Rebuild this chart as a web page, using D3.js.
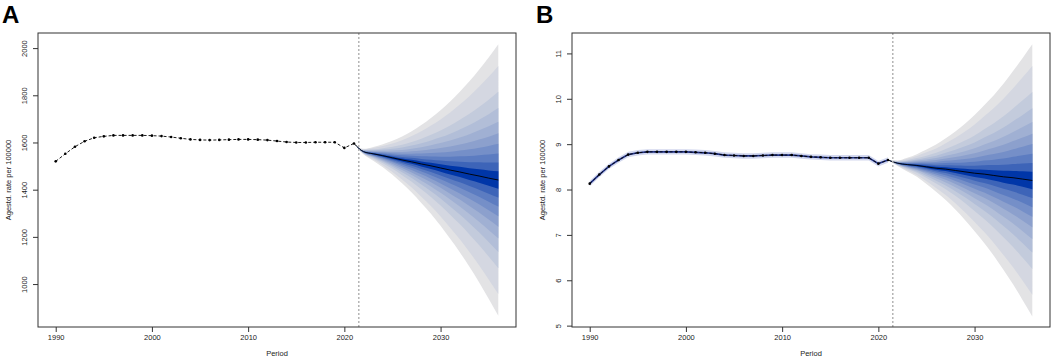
<!DOCTYPE html>
<html lang="en">
<head>
<meta charset="UTF-8" />
<title>Age-standardised rate projection</title>
<style>
  body { margin: 0; background: #fff; font-family: "Liberation Sans", Arial, sans-serif; }
  svg { display: block; }
</style>
</head>
<body>
<svg id="chart" width="1052" height="364"></svg>
<script src="https://d3js.org/d3.v7.min.js"></script>
<script>
const obsYears = d3.range(1990, 2022);
const obsA = [1520, 1552, 1582, 1605, 1620, 1626, 1630, 1630, 1630, 1630, 1629, 1627, 1623, 1618, 1613, 1611,
              1610, 1611, 1612, 1613, 1613, 1612, 1610, 1606, 1602, 1600, 1600, 1601, 1601, 1601, 1577, 1596];
const obsB = [8.13, 8.33, 8.51, 8.65, 8.77, 8.81, 8.83, 8.83, 8.83, 8.83, 8.83, 8.82, 8.81, 8.79, 8.76, 8.75,
              8.74, 8.74, 8.75, 8.76, 8.76, 8.76, 8.74, 8.72, 8.71, 8.70, 8.70, 8.70, 8.70, 8.70, 8.57, 8.65];
const obsBandB = [0.06, 0.06, 0.06, 0.06, 0.06, 0.06, 0.06, 0.06, 0.06, 0.06, 0.06, 0.06, 0.06, 0.06, 0.06, 0.06,
                  0.06, 0.06, 0.06, 0.06, 0.06, 0.06, 0.06, 0.06, 0.06, 0.06, 0.06, 0.06, 0.06, 0.06, 0.06, 0.06];

// projection: median and outer (95%) half-width per year
const projYears = d3.range(2021, 2037);
const centerA = [1596, 1561, 1552, 1544, 1535, 1526, 1518, 1509, 1501, 1492, 1483, 1475, 1466, 1458, 1449, 1441];
const halfA = [0, 12, 29, 49, 72, 99, 130, 165, 203, 245, 291, 340, 393, 450, 511, 575];
const centerB = [8.65, 8.58, 8.55, 8.53, 8.50, 8.47, 8.45, 8.42, 8.39, 8.36, 8.34, 8.31, 8.28, 8.26, 8.23, 8.20];
const halfB = [0, 0.06, 0.15, 0.25, 0.38, 0.52, 0.68, 0.86, 1.06, 1.28, 1.52, 1.77, 2.05, 2.35, 2.67, 3.0];

// fan band edges as share of the outer half-width (inner to outer)
const fanLevels = [0.064, 0.129, 0.196, 0.267, 0.344, 0.43, 0.53, 0.65, 0.84, 1.0];

const ticksA = [1000, 1200, 1400, 1600, 1800, 2000];
const ticksB = [5, 6, 7, 8, 9, 10, 11];
const xTicks = [1990, 2000, 2010, 2020, 2030];

const svg = d3.select("#chart");
const fanColor = d3.interpolateRgb("#0036a8", "#e3e3e5");

function panel(opts) {
  const { left, right, top, bottom, letter, yDomain, yTicks, obs, center, half, band } = opts;
  const g = svg.append("g");

  const x = d3.scaleLinear().domain([1988.16, 2037.84]).range([left, right]);
  const y = d3.scaleLinear().domain(yDomain).range([bottom, top]);

  // fan, outer bands first
  for (let i = fanLevels.length - 1; i >= 0; i--) {
    const area = d3.area()
      .x((d, j) => x(projYears[j]))
      .y0((d, j) => y(center[j] - fanLevels[i] * half[j]))
      .y1((d, j) => y(center[j] + fanLevels[i] * half[j]))
      .curve(d3.curveMonotoneX);
    g.append("path")
      .datum(projYears)
      .attr("d", area)
      .attr("fill", fanColor(Math.pow(i / (fanLevels.length - 1), 0.6)));
  }
  g.append("path")
    .datum(projYears)
    .attr("fill", "none")
    .attr("stroke", "#000")
    .attr("stroke-width", 0.9)
    .attr("d", d3.line().x((d, j) => x(d)).y((d, j) => y(center[j])).curve(d3.curveMonotoneX));

  // observed band (B only)
  if (band) {
    g.append("path")
      .datum(obsYears)
      .attr("fill", "#d3d8ee")
      .attr("d", d3.area()
        .x(d => x(d))
        .y0((d, j) => y(obs[j] - band[j]))
        .y1((d, j) => y(obs[j] + band[j])));
    g.append("path")
      .datum(obsYears)
      .attr("fill", "none")
      .attr("stroke", "#22348c")
      .attr("stroke-width", 1.7)
      .attr("d", d3.line().x(d => x(d)).y((d, j) => y(obs[j])));
  }

  g.append("path")
    .datum(obsYears)
    .attr("fill", "none")
    .attr("stroke", "#000")
    .attr("stroke-width", 0.9)
    .attr("stroke-dasharray", "3,2")
    .attr("d", d3.line().x(d => x(d)).y((d, j) => y(obs[j])));

  g.selectAll("circle.obs")
    .data(obsYears)
    .join("circle")
    .attr("class", "obs")
    .attr("cx", d => x(d))
    .attr("cy", (d, j) => y(obs[j]))
    .attr("r", 1.3)
    .attr("fill", "#000");

  // dotted divider
  g.append("line")
    .attr("x1", x(2021.5)).attr("x2", x(2021.5))
    .attr("y1", top).attr("y2", bottom)
    .attr("stroke", "#b4b4b4")
    .attr("stroke-width", 1.5)
    .attr("stroke-dasharray", "2,2");

  // box
  g.append("rect")
    .attr("x", left).attr("y", top)
    .attr("width", right - left).attr("height", bottom - top)
    .attr("fill", "none")
    .attr("stroke", "#333")
    .attr("stroke-width", 1);

  // x axis
  const xa = g.append("g").attr("transform", `translate(0,${bottom})`)
    .call(d3.axisBottom(x).tickValues(xTicks).tickFormat(d3.format("d")).tickSize(5).tickPadding(3));
  xa.select(".domain").remove();
  xa.selectAll("line").attr("stroke", "#333");
  xa.selectAll("text").attr("font-size", "7.5px").attr("fill", "#222").attr("font-family", "Liberation Sans, Arial, sans-serif");

  // y axis, labels parallel to axis
  const ya = g.append("g").attr("transform", `translate(${left},0)`)
    .call(d3.axisLeft(y).tickValues(yTicks).tickFormat(d3.format("d")).tickSize(5).tickPadding(3));
  ya.select(".domain").remove();
  ya.selectAll("line").attr("stroke", "#333");
  ya.selectAll("text")
    .attr("font-size", "7.5px").attr("fill", "#222").attr("font-family", "Liberation Sans, Arial, sans-serif")
    .attr("text-anchor", "middle")
    .attr("dy", "0")
    .attr("x", 0)
    .attr("transform", "translate(-11,0) rotate(-90)");

  g.append("text")
    .attr("transform", `translate(${left - 27},${(top + bottom) / 2}) rotate(-90)`)
    .attr("text-anchor", "middle")
    .attr("font-size", "7.5px")
    .attr("fill", "#222")
    .text("Agestd. rate per 100000");

  g.append("text")
    .attr("x", (left + right) / 2)
    .attr("y", bottom + 29)
    .attr("text-anchor", "middle")
    .attr("font-size", "7.5px")
    .attr("fill", "#222")
    .text("Period");

  svg.append("text")
    .attr("x", left - 36)
    .attr("y", 23)
    .attr("font-size", "24px")
    .attr("font-weight", "bold")
    .attr("font-family", "Liberation Sans, Arial, sans-serif")
    .text(letter);
}

panel({ left: 38, right: 516, top: 33, bottom: 327, letter: "A",
        yDomain: [818, 2064], yTicks: ticksA, obs: obsA, center: centerA, half: halfA });
panel({ left: 572, right: 1050, top: 33, bottom: 327, letter: "B",
        yDomain: [4.97, 11.45], yTicks: ticksB, obs: obsB, center: centerB, half: halfB, band: obsBandB });
</script>
</body>
</html>
